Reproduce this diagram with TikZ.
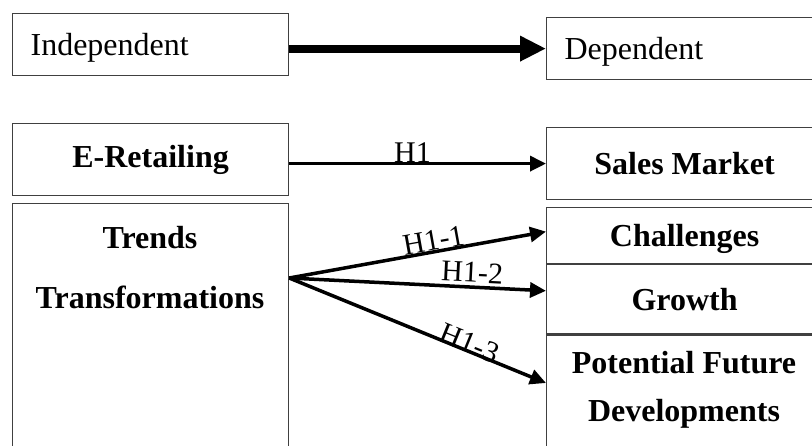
\documentclass[tikz,border=0pt]{standalone}
\usepackage{fontspec}
\setmainfont{Liberation Serif}
\usepackage{tikz}
\usetikzlibrary{positioning, arrows.meta}

\newcommand{\boxtxt}{\fontsize{32}{36}\selectfont}
\newcommand{\hyptxt}{\fontsize{30}{34}\selectfont}

\tikzset{
    box/.style={rectangle, draw=black!75, line width=1.2pt, inner sep=0pt,
                minimum width=276pt, anchor=north west, font=\boxtxt},
    varbox/.style={box, text width=240pt, inner xsep=18pt, align=left, text depth=0pt},
    bbox/.style={box, font=\boxtxt\bfseries},
    btext/.style={font=\boxtxt\bfseries, align=center, inner sep=0pt},
    bigarrow/.style={line width=8pt, -{Triangle[length=26pt, width=24pt]}},
    hyparrow/.style={line width=3.5pt, -{Triangle[length=16pt, width=15pt]}},
    hyp/.style={font=\hyptxt, inner sep=0pt}
}

\begin{document}
\begin{tikzpicture}[x=1pt, y=-1pt]
    \useasboundingbox (0,0) rectangle (812,445);
    \clip (0,0) rectangle (812,445);

    % legend
    \node[varbox, minimum height=62pt] (indep) at (12,13) {Independent};
    \node[varbox, minimum height=62pt] (dep) at (546,17) {Dependent};
    \draw[bigarrow] (indep.east |- dep.west) -- (dep.west);

    % model
    \node[bbox, minimum height=72pt] (eretail) at (12,123) {E-Retailing};
    \node[bbox, minimum height=72pt] (sales) at (546,127) {Sales Market};
    \node[box, minimum height=260pt] (trends) at (12,203) {};
    \node[btext] (trendstxt) at (150,268) {Trends\\[24pt]Transformations};

    \node[bbox, minimum height=56pt, text depth=0pt] (chall) at (546,207) {Challenges};
    \node[bbox, minimum height=69pt, below=0pt of chall] (growth) {Growth};
    \node[box, minimum height=131pt, below=0pt of growth] (potential) {};
    \node[btext, font=\fontsize{32}{48}\selectfont\bfseries] (potentialtxt) at (684,390)
        {Potential Future\\Developments};

    \coordinate (fork) at ([yshift=-75pt]trends.north east);
    \draw[hyparrow] (eretail.east |- sales.west) -- node[hyp, pos=0.48, above=-1pt] {H1} (sales.west);
    \draw[hyparrow] (fork) -- node[hyp, pos=0.57, sloped, above=0pt] {H1-1} ([yshift=4pt]chall.west);
    \draw[hyparrow] (fork) -- node[hyp, pos=0.71, sloped, above=3pt] {H1-2} ([yshift=8.5pt]growth.west);
    \draw[hyparrow] (fork) -- node[hyp, pos=0.69, sloped, above=-4pt] {H1-3} ([yshift=17.5pt]potential.west);
\end{tikzpicture}
\end{document}
